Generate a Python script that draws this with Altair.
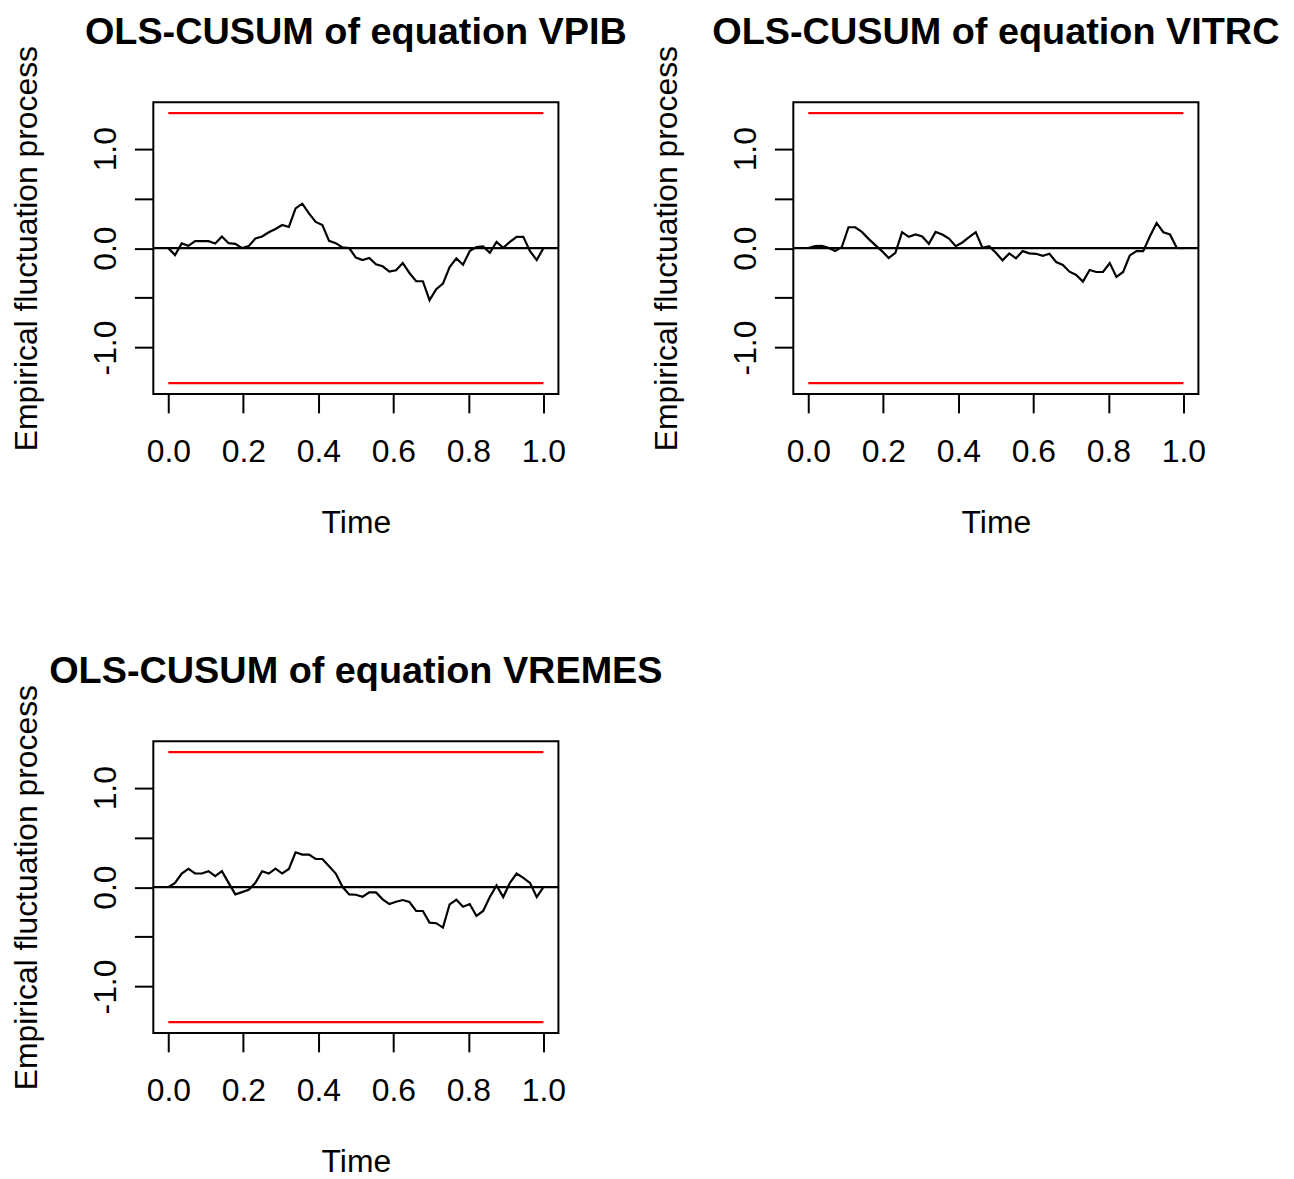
import altair as alt
import pandas as pd

# ---- data ----
time = [i / 56 for i in range(57)]

vpib = [0.0, -0.07, 0.047, 0.023, 0.07, 0.07, 0.07, 0.047, 0.117, 0.05,
        0.043, 0.0, 0.02, 0.097, 0.117, 0.16, 0.193, 0.233, 0.213, 0.40,
        0.447, 0.35, 0.263, 0.233, 0.073, 0.05, 0.007, 0.0, -0.095, -0.12,
        -0.1, -0.163, -0.183, -0.237, -0.223, -0.15, -0.25, -0.333, -0.333, -0.523,
        -0.413, -0.357, -0.19, -0.103, -0.167, -0.03, 0.01, 0.017, -0.047, 0.063,
        0.003, 0.063, 0.113, 0.113, -0.03, -0.12, 0.0]

vitrc = [0.0, 0.02, 0.023, 0.003, -0.03, 0.01, 0.21, 0.21, 0.163, 0.093,
         0.03, -0.03, -0.1, -0.047, 0.16, 0.113, 0.137, 0.117, 0.043, 0.163,
         0.137, 0.097, 0.02, 0.057, 0.11, 0.16, 0.003, 0.02, -0.047, -0.123,
         -0.053, -0.103, -0.03, -0.053, -0.057, -0.077, -0.057, -0.14, -0.17, -0.237,
         -0.27, -0.337, -0.22, -0.24, -0.24, -0.15, -0.29, -0.24, -0.073, -0.03,
         -0.03, 0.12, 0.253, 0.16, 0.137, 0.003, 0.0]

vremes = [0.0, 0.043, 0.137, 0.183, 0.137, 0.137, 0.16, 0.11, 0.16, 0.043,
          -0.073, -0.05, -0.027, 0.043, 0.16, 0.137, 0.187, 0.137, 0.183, 0.35,
          0.327, 0.327, 0.283, 0.283, 0.21, 0.137, 0.003, -0.073, -0.077, -0.097,
          -0.053, -0.053, -0.123, -0.17, -0.147, -0.13, -0.15, -0.24, -0.24, -0.357,
          -0.363, -0.407, -0.173, -0.127, -0.197, -0.17, -0.29, -0.24, -0.1, 0.017,
          -0.1, 0.043, 0.137, 0.093, 0.043, -0.1, 0.0]

boundary = 1.358
bound_time = [0, 1]
x_ticks = [0.0, 0.2, 0.4, 0.6, 0.8, 1.0]
y_ticks = [-1.0, -0.5, 0.0, 0.5, 1.0]
titles = ["OLS-CUSUM of equation VPIB",
          "OLS-CUSUM of equation VITRC",
          "OLS-CUSUM of equation VREMES"]

FONT = "Liberation Sans"
W, H = 407, 293

x_scale = alt.Scale(domain=[-0.04, 1.04], nice=False, zero=False)
y_scale = alt.Scale(domain=[-1.467, 1.467], nice=False, zero=False)

x_axis = alt.Axis(values=x_ticks, format=".1f", title="Time", grid=False,
                  domain=False, tickSize=19, tickWidth=2, tickColor="black",
                  labelFont=FONT, labelFontSize=32, labelColor="black",
                  labelPadding=24, labelFlush=False, labelOverlap=False,
                  titleFont=FONT, titleFontSize=32, titleFontWeight="normal",
                  titleColor="black", titlePadding=40)

y_axis = alt.Axis(values=y_ticks, title="Empirical fluctuation process",
                  labelExpr="datum.value == 1 ? '1.0' : datum.value == 0 ? '0.0' : datum.value == -1 ? '-1.0' : ''",
                  grid=False, domain=False, tickSize=19, tickWidth=2,
                  tickColor="black", labelFont=FONT, labelFontSize=32,
                  labelColor="black", labelAngle=270, labelAlign="center",
                  labelBaseline="alphabetic", labelPadding=19,
                  labelFlush=False, labelOverlap=False,
                  titleFont=FONT, titleFontSize=32, titleFontWeight="normal",
                  titleColor="black", titleAngle=270, titleAlign="center",
                  titleBaseline="alphabetic", titleX=-117, titleY=H / 2)


def panel(values, title):
    df = pd.DataFrame({"time": time, "value": values})
    bdf = pd.DataFrame({
        "time": bound_time + bound_time,
        "value": [boundary, boundary, -boundary, -boundary],
        "side": ["upper", "upper", "lower", "lower"],
    })
    zdf = pd.DataFrame({"value": [0.0]})

    bounds = alt.Chart(bdf).mark_line(color="#FF0000", strokeWidth=2.2).encode(
        x=alt.X("time:Q", scale=x_scale, axis=x_axis),
        y=alt.Y("value:Q", scale=y_scale, axis=y_axis),
        detail="side:N",
    )
    zero = alt.Chart(zdf).mark_rule(color="black", strokeWidth=2.2).encode(
        y=alt.Y("value:Q", scale=y_scale),
    )
    line = alt.Chart(df).mark_line(color="black", strokeWidth=2.2).encode(
        x=alt.X("time:Q", scale=x_scale),
        y=alt.Y("value:Q", scale=y_scale),
    )
    return alt.layer(bounds, zero, line).properties(
        width=W, height=H,
        title=alt.TitleParams(text=title, font=FONT, fontSize=38,
                              fontWeight="bold", color="black",
                              anchor="middle", frame="group", offset=-7),
    )


p1 = panel(vpib, titles[0])
p2 = panel(vitrc, titles[1])
p3 = panel(vremes, titles[2])

chart = alt.vconcat(
    alt.hconcat(p1, p2, spacing=22),
    p3,
    spacing=113,
).properties(
    padding={"left": 2, "top": 2, "right": 5, "bottom": 0},
    background="white",
).configure(
    font=FONT
).configure_view(
    stroke="black", strokeWidth=2
)

chart.save("out.html", embed_options={"renderer": "svg", "actions": False})
